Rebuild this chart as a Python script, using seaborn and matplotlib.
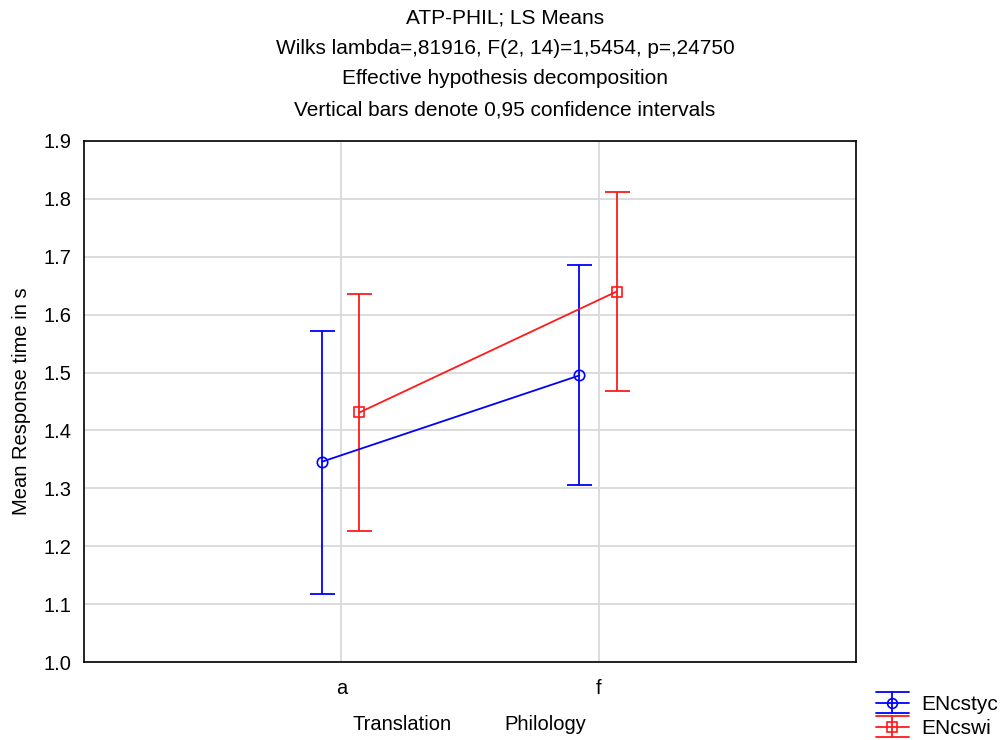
import matplotlib
matplotlib.use("Agg")
import matplotlib.pyplot as plt
from matplotlib.legend_handler import HandlerBase
from matplotlib.lines import Line2D
import seaborn as sns
import pandas as pd
import numpy as np

categories = ["a", "f"]
groups = ["ENcstyc", "ENcswi"]
means_encstyc = [1.346, 1.495]
lower_encstyc = [1.118, 1.305]
upper_encstyc = [1.572, 1.685]
means_encswi = [1.431, 1.640]
lower_encswi = [1.226, 1.468]
upper_encswi = [1.635, 1.812]
yticks = [1.0, 1.1, 1.2, 1.3, 1.4, 1.5, 1.6, 1.7, 1.8, 1.9]

title_lines = ["ATP-PHIL; LS Means",
               "Wilks lambda=,81916, F(2, 14)=1,5454, p=,24750",
               "Effective hypothesis decomposition",
               "Vertical bars denote 0,95 confidence intervals"]

sns.set_style("white")
plt.rcParams['font.family'] = ['Liberation Sans', 'DejaVu Sans']
plt.rcParams['text.color'] = 'black'
plt.rcParams['axes.labelcolor'] = 'black'
FS = 14.5
FT = 15

colors = {"ENcstyc": "#0000ff", "ENcswi": "#ff1a1a"}
markers = {"ENcstyc": "o", "ENcswi": "s"}
offsets = {"ENcstyc": -0.075, "ENcswi": 0.07}

data = {"ENcstyc": (means_encstyc, lower_encstyc, upper_encstyc),
        "ENcswi": (means_encswi, lower_encswi, upper_encswi)}

rows = []
for g in groups:
    m, lo, hi = data[g]
    for i, c in enumerate(categories):
        rows.append({"group": g, "cat": c, "x": i + offsets[g], "mean": m[i], "lo": lo[i], "hi": hi[i]})
df = pd.DataFrame(rows)


class ErrGlyph(HandlerBase):
    def create_artists(self, legend, orig_handle, xdescent, ydescent, width, height, fontsize, trans):
        c = orig_handle.get_color()
        mk = orig_handle.get_marker()
        lw = 1.3
        top = -ydescent + height * 1.05
        bot = -ydescent - height * 0.05
        mid = -ydescent + height / 2
        x0, x1 = -xdescent, -xdescent + width
        xm = (x0 + x1) / 2
        arts = [
            Line2D([x0, x1], [mid, mid], color=c, lw=lw),
            Line2D([xm, xm], [bot, top], color=c, lw=lw),
            Line2D([x0, x1], [top, top], color=c, lw=lw),
            Line2D([x0, x1], [bot, bot], color=c, lw=lw),
            Line2D([xm], [mid], marker=mk, markersize=7, mfc="none", mec=c, mew=1.2, ls="none"),
        ]
        for a in arts:
            a.set_transform(trans)
        return arts


fig = plt.figure(figsize=(10.05, 7.4), dpi=100)
W, H = 1005, 740
ax = fig.add_axes([84 / W, 1 - 662 / H, (856 - 84) / W, (662 - 141) / H])

handles = []
for g in groups:
    sub = df[df.group == g]
    n0 = len(ax.lines)
    sns.lineplot(data=sub, x="x", y="mean", ax=ax, color=colors[g], marker=markers[g],
                 markersize=7.5 if g == "ENcstyc" else 7, markerfacecolor="none",
                 markeredgecolor=colors[g], markeredgewidth=1.2, linewidth=1.3,
                 legend=False, zorder=4)
    line = ax.lines[n0]
    ax.errorbar(sub["x"], sub["mean"],
                yerr=[sub["mean"] - sub["lo"], sub["hi"] - sub["mean"]],
                fmt="none", ecolor=colors[g], elinewidth=1.3, capsize=9,
                capthick=1.3, zorder=3)
    handles.append(line)

ax.set_xlim(-1, 2)
ax.set_ylim(1.0, 1.9)
ax.set_xticks(range(len(categories)))
ax.set_xticklabels(categories)
ax.set_yticks(yticks)
ax.set_yticklabels([f"{v:.1f}" for v in yticks])
ax.grid(True, color="#d9d9d9", linewidth=1.3, zorder=0)
ax.set_axisbelow(True)
for s in ax.spines.values():
    s.set_color("black")
    s.set_linewidth(1.2)
ax.tick_params(axis="both", direction="in", length=3, width=1, labelsize=FS,
               colors="black", pad=9)
ax.tick_params(axis="x", pad=12)
ax.set_xlabel("")
ax.set_ylabel("Mean Response time in s", fontsize=FS, labelpad=9, color="black")

ys = [18, 48, 78, 110]
for t, y in zip(title_lines, ys):
    fig.text(505 / W, 1 - y / H, t, ha="center", va="center", fontsize=FT, color="black")

fig.text(402 / W, 1 - 724 / H, "Translation", ha="center", va="center", fontsize=FS, color="black")
fig.text(545 / W, 1 - 724 / H, "Philology", ha="center", va="center", fontsize=FS, color="black")

leg = fig.legend(handles, groups, handler_map={Line2D: ErrGlyph()},
                 loc="lower left", bbox_to_anchor=(868 / W, -6 / H), frameon=False,
                 fontsize=15, handlelength=1.55, handleheight=1.05, labelspacing=0.15,
                 handletextpad=0.6, borderaxespad=0.0)
for t in leg.get_texts():
    t.set_color("black")

fig.savefig("out.png", dpi=100)
